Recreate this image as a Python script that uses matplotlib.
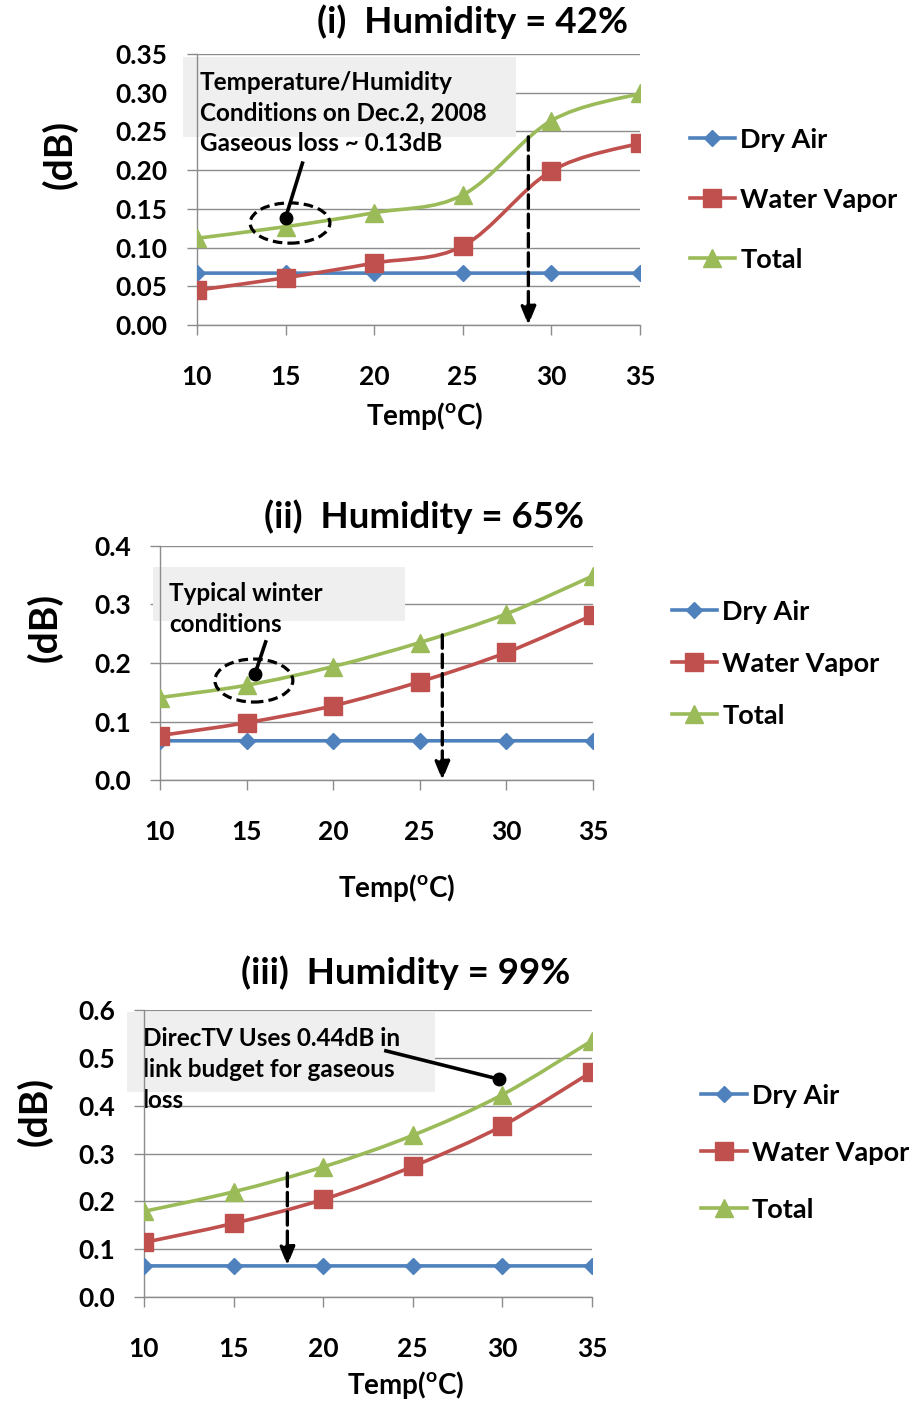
import matplotlib
matplotlib.use("Agg")
import matplotlib.pyplot as plt
import numpy as np
from matplotlib.path import Path
from matplotlib.patches import PathPatch, Rectangle, Ellipse
from matplotlib.lines import Line2D

plt.rcParams['font.family'] = ['Lato', 'DejaVu Sans']
plt.rcParams['font.weight'] = 'bold'
plt.rcParams['axes.labelweight'] = 'bold'
plt.rcParams['mathtext.fontset'] = 'custom'
plt.rcParams['mathtext.bf'] = 'Lato:bold'
plt.rcParams['mathtext.rm'] = 'Lato:bold'

# ---- data ----
temps = [10, 15, 20, 25, 30, 35]

dry_42 = [0.067, 0.067, 0.067, 0.067, 0.067, 0.067]
vapor_42 = [0.045, 0.061, 0.080, 0.102, 0.199, 0.235]
total_42 = [0.112, 0.127, 0.145, 0.168, 0.264, 0.299]

dry_65 = [0.067, 0.067, 0.067, 0.067, 0.067, 0.067]
vapor_65 = [0.076, 0.098, 0.127, 0.168, 0.218, 0.282]
total_65 = [0.141, 0.162, 0.194, 0.235, 0.284, 0.349]

dry_99 = [0.065, 0.065, 0.065, 0.065, 0.065, 0.065]
vapor_99 = [0.114, 0.154, 0.204, 0.273, 0.358, 0.471]
total_99 = [0.179, 0.220, 0.272, 0.338, 0.423, 0.536]

series_names = ['Dry Air', 'Water Vapor', 'Total']
colors = ['#4F81BD', '#C0504D', '#9BBB59']
markers = ['D', 's', '^']
marker_sizes = [8, 12.5, 13.5]

GRID = '#8C8C8C'


def smooth_path(xs, ys):
    # Excel-style smoothed line: cubic Bezier through the points
    n = len(xs)
    pts = np.column_stack([xs, ys]).astype(float)
    verts = [pts[0]]
    codes = [Path.MOVETO]
    for i in range(n - 1):
        p0 = pts[i - 1] if i > 0 else pts[i]
        p1 = pts[i]
        p2 = pts[i + 1]
        p3 = pts[i + 2] if i + 2 < n else pts[i + 1]
        c1 = p1 + (p2 - p0) / 6.0
        c2 = p2 - (p3 - p1) / 6.0
        verts += [c1, c2, p2]
        codes += [Path.CURVE4] * 3
    return Path(verts, codes)


def draw_panel(ax, series, ymax, ystep, yfmt, title, title_xy):
    for vals, c, m, ms in zip(series, colors, markers, marker_sizes):
        ax.add_patch(PathPatch(smooth_path(temps, vals), fill=False,
                               edgecolor=c, lw=2.6, zorder=3,
                               capstyle='round'))
        ax.plot(temps, vals, linestyle='none', marker=m, markersize=ms,
                color=c, zorder=4)
    ax.set_xlim(10, 35)
    ax.set_ylim(0, ymax)
    ax.set_xticks(temps)
    yt = np.arange(0, ymax + 1e-9, ystep)
    ax.set_yticks(yt)
    ax.set_yticklabels([yfmt.format(v) for v in yt])
    ax.grid(axis='y', color=GRID, lw=1.0)
    ax.set_axisbelow(True)
    for s in ['top', 'right']:
        ax.spines[s].set_visible(False)
    for s in ['left', 'bottom']:
        ax.spines[s].set_color(GRID)
        ax.spines[s].set_linewidth(1.0)
    ax.tick_params(axis='both', colors=GRID, length=7, width=1.0,
                   labelcolor='black', labelsize=19)
    ax.tick_params(axis='y', pad=14)
    ax.tick_params(axis='x', pad=22)
    ax.text(title_xy[0], title_xy[1], title, transform=ax.transAxes,
            ha='center', va='center', fontsize=26.5, fontweight='bold')


def add_legend(ax, anchor, spacing):
    handles = [Line2D([0], [0], color=c, lw=2.6, marker=m, markersize=ms)
               for c, m, ms in zip(colors, markers, marker_sizes)]
    ax.legend(handles, series_names, loc='upper left', bbox_to_anchor=anchor,
              frameon=False, fontsize=19.5, handlelength=1.67,
              handletextpad=0.19, labelspacing=spacing, borderaxespad=0)


def dashed_arrow(ax, x, y0, y1):
    ax.annotate('', xy=(x, y1), xytext=(x, y0),
                arrowprops=dict(arrowstyle='-|>,head_length=1.1,head_width=0.45',
                                linestyle=(0, (4, 1.8)), lw=2.4, color='black',
                                shrinkA=0, shrinkB=0), zorder=6)


def note_box(ax, x, y, w, h):
    ax.add_patch(Rectangle((x, y), w, h, facecolor='#EFEFEF', edgecolor='none',
                           zorder=1.5, clip_on=False))


def set_labels(ax, xlab_xy, ylab_xy):
    ax.set_xlabel(r'Temp($^{\mathbf{o}}$C)', fontsize=20, fontweight='bold')
    ax.xaxis.set_label_coords(*xlab_xy)
    ax.xaxis.label.set_va('top')
    ax.set_ylabel('(dB)', fontsize=28, fontweight='bold')
    ax.yaxis.set_label_coords(*ylab_xy)


fig = plt.figure(figsize=(9.19, 14.01), dpi=100)
W, H = 919, 1401


def axes_px(left, right, top, bottom):
    return fig.add_axes([left / W, 1 - bottom / H, (right - left) / W,
                         (bottom - top) / H])


NOTE_FS = 17.5
NOTE_LS = 1.42

# ---------------- panel (i) ----------------
ax1 = axes_px(197, 640, 54, 325)
draw_panel(ax1, [dry_42, vapor_42, total_42], 0.35, 0.05, '{:.2f}',
           '(i)  Humidity = 42%', (0.623, 1.118))
add_legend(ax1, (1.088, 0.768), 1.33)
note_box(ax1, 9.2, 0.243, 18.8, 0.1035)
ax1.text(10.17, 0.2738, 'Temperature/Humidity\nConditions on Dec.2, 2008\nGaseous loss ~ 0.13dB',
         ha='left', va='center', fontsize=NOTE_FS, linespacing=NOTE_LS, zorder=2)
ax1.add_patch(Ellipse((15.25, 0.1317), 4.5, 0.052, fill=False, edgecolor='black',
                      lw=2.3, linestyle=(0, (3, 1.6)), zorder=6))
ax1.plot([15.0, 15.95], [0.1386, 0.209], color='black', lw=2.6, zorder=6)
ax1.plot([15.0], [0.1386], 'o', color='black', markersize=9, zorder=6)
dashed_arrow(ax1, 28.7, 0.243, 0.0)
set_labels(ax1, (0.515, -0.277), (-0.269, 0.631))

# ---------------- panel (ii) ----------------
ax2 = axes_px(160, 593, 546, 780)
draw_panel(ax2, [dry_65, vapor_65, total_65], 0.4, 0.1, '{:.1f}',
           '(ii)  Humidity = 65%', (0.609, 1.124))
add_legend(ax2, (1.157, 0.816), 1.03)
note_box(ax2, 9.6, 0.2723, 14.53, 0.0923)
ax2.text(10.52, 0.2923, 'Typical winter\nconditions',
         ha='left', va='center', fontsize=NOTE_FS, linespacing=NOTE_LS, zorder=2)
ax2.add_patch(Ellipse((15.42, 0.170), 4.5, 0.0735, fill=False, edgecolor='black',
                      lw=2.3, linestyle=(0, (3, 1.6)), zorder=6))
ax2.plot([15.48, 16.1], [0.181, 0.236], color='black', lw=2.6, zorder=6)
ax2.plot([15.48], [0.181], 'o', color='black', markersize=9, zorder=6)
dashed_arrow(ax2, 26.3, 0.248, 0.0)
set_labels(ax2, (0.547, -0.393), (-0.224, 0.654))

# ---------------- panel (iii) ----------------
ax3 = axes_px(144, 592, 1010, 1297)
draw_panel(ax3, [dry_99, vapor_99, total_99], 0.6, 0.1, '{:.1f}',
           '(iii)  Humidity = 99%', (0.584, 1.129))
add_legend(ax3, (1.22, 0.781), 1.22)
note_box(ax3, 9.035, 0.429, 17.2, 0.167)
ax3.text(9.93, 0.476, 'DirecTV Uses 0.44dB in\nlink budget for gaseous\nloss',
         ha='left', va='center', fontsize=NOTE_FS, linespacing=NOTE_LS, zorder=2)
ax3.plot([23.5, 29.81], [0.5146, 0.4554], color='black', lw=2.6, zorder=6)
ax3.plot([29.81], [0.4554], 'o', color='black', markersize=9, zorder=6)
dashed_arrow(ax3, 18.0, 0.259, 0.066)
set_labels(ax3, (0.584, -0.252), (-0.203, 0.645))

fig.savefig('out.png', dpi=100)
